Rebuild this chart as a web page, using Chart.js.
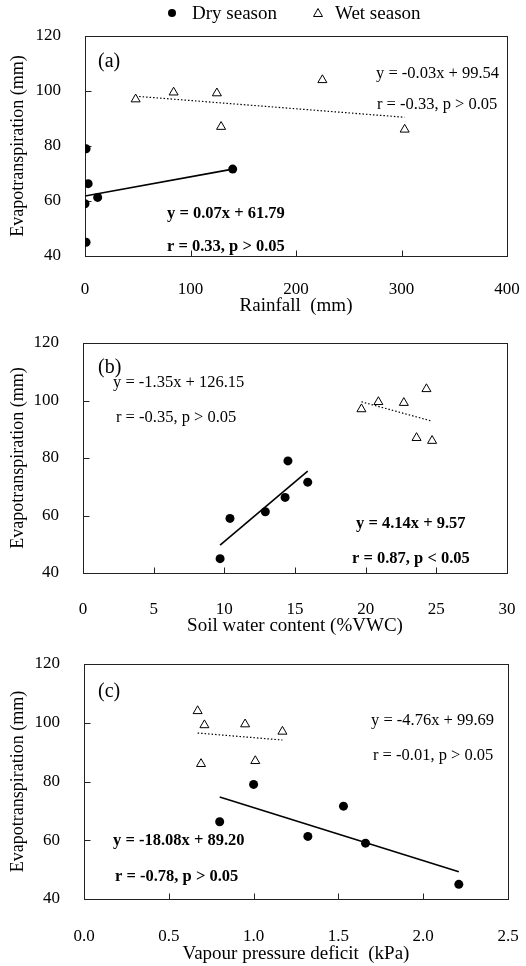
<!DOCTYPE html>
<html>
<head>
<meta charset="utf-8">
<script src="https://cdn.jsdelivr.net/npm/chart.js@4.4.0/dist/chart.umd.min.js"></script>
<style>
body { margin: 0; background: #fff; width: 526px; height: 966px; overflow: hidden; }
.panel { position: absolute; left: 0; width: 526px; }
</style>
</head>
<body>
<div class="panel" style="top:0;height:320px"><canvas id="chartA"></canvas></div>
<div class="panel" style="top:320px;height:320px"><canvas id="chartB"></canvas></div>
<div class="panel" style="top:640px;height:326px"><canvas id="chartC"></canvas></div>
<script>
// evapotranspiration (mm), same six months in each panel
const dryET = [79, 66.3, 61.3, 59, 45, 71.6];
const wetET = [104, 99.5, 99.2, 97, 87, 86];

// explanatory variables
const dryRain = [1, 3, 12, 0, 1, 140];
const wetRain = [225, 84, 125, 48, 129, 303];
const drySWC = [14.5, 14.3, 12.9, 10.4, 9.7, 15.9];
const wetSWC = [24.3, 20.9, 22.7, 19.7, 23.6, 24.7];
const dryVPD = [1.0, 0.8, 1.32, 1.66, 2.21, 1.53];
const wetVPD = [0.67, 0.95, 0.71, 1.17, 1.01, 0.69];

// regression results for panels a, b, c
const drySlope = [0.07, 4.14, -18.08];
const dryIntercept = [61.79, 9.57, 89.20];
const dryR = ['0.33', '0.87', '-0.78'];
const dryP = ['>', '<', '>'];
const wetSlope = [-0.03, -1.35, -4.76];
const wetIntercept = [99.54, 126.15, 99.69];
const wetR = ['-0.33', '-0.35', '-0.01'];
const wetP = ['>', '>', '>'];

const FONT = '"Liberation Serif", "Times New Roman", serif';

const eqText = (m, b) => 'y = ' + m.toFixed(2) + 'x + ' + b.toFixed(2);
const rText = (r, p) => 'r = ' + r + ', p ' + p + ' 0.05';

const points = (xs, ys) => xs.map((v, i) => ({x: v, y: ys[i]}));
const fitLine = (xs, m, b) => {
    const lo = Math.min(...xs), hi = Math.max(...xs);
    return [{x: lo, y: m * lo + b}, {x: hi, y: m * hi + b}];
};

// box round the plot area plus inward tick marks
const framePlugin = {
    id: 'frame',
    beforeDatasetsDraw(chart) {
        const {ctx, chartArea: a, scales: {x, y}} = chart;
        ctx.save();
        ctx.strokeStyle = '#222';
        ctx.lineWidth = 1;
        const L = Math.round(a.left) + 0.5, R = Math.round(a.right) + 0.5;
        const T = Math.round(a.top) + 0.5, B = Math.round(a.bottom) + 0.5;
        ctx.strokeRect(L, T, R - L, B - T);
        ctx.beginPath();
        x.ticks.forEach(t => {
            const px = Math.round(x.getPixelForValue(t.value)) + 0.5;
            ctx.moveTo(px, B); ctx.lineTo(px, B - 6);
        });
        y.ticks.forEach(t => {
            const py = Math.round(y.getPixelForValue(t.value)) + 0.5;
            ctx.moveTo(L, py); ctx.lineTo(L + 6, py);
        });
        ctx.stroke();
        ctx.restore();
    }
};

// text notes placed relative to the plot area
const notesPlugin = {
    id: 'notes',
    afterDraw(chart, args, opts) {
        const {ctx, chartArea: a} = chart;
        ctx.save();
        ctx.fillStyle = '#000';
        ctx.textAlign = 'left';
        ctx.textBaseline = 'middle';
        (opts.items || []).forEach(n => {
            ctx.font = (n.bold ? 'bold ' : '') + (n.size || 16.5) + 'px ' + FONT;
            ctx.fillText(n.text, a.left + n.dx, a.top + n.dy);
        });
        if (opts.legend) {
            const cy = 13;
            ctx.font = '19px ' + FONT;
            ctx.beginPath();
            ctx.arc(172, cy, 4, 0, Math.PI * 2);
            ctx.fill();
            ctx.fillText(chart.data.datasets[0].label, 192, cy + 1);
            ctx.beginPath();
            ctx.moveTo(318, cy - 4.5); ctx.lineTo(322.5, cy + 3.5); ctx.lineTo(313.5, cy + 3.5);
            ctx.closePath();
            ctx.lineWidth = 1;
            ctx.strokeStyle = '#000';
            ctx.stroke();
            ctx.fillText(chart.data.datasets[1].label, 335, cy + 1);
        }
        ctx.restore();
    }
};

const makeChart = (id, p) => new Chart(document.getElementById(id), {
    type: 'scatter',
    data: {
        datasets: [
            {label: 'Dry season', data: points(p.dryX, dryET), pointStyle: 'circle', pointRadius: 4.5,
             backgroundColor: '#000', borderColor: '#000', borderWidth: 0},
            {label: 'Wet season', data: points(p.wetX, wetET), pointStyle: 'triangle', pointRadius: 5.2,
             backgroundColor: '#fff', borderColor: '#000', borderWidth: 1},
            {label: 'dry fit', data: fitLine(p.dryX, drySlope[p.k], dryIntercept[p.k]), showLine: true,
             pointRadius: 0, borderColor: '#000', borderWidth: 1.6},
            {label: 'wet fit', data: fitLine(p.wetX, wetSlope[p.k], wetIntercept[p.k]), showLine: true,
             pointRadius: 0, borderColor: '#000', borderWidth: 1.2, borderDash: [1.5, 2]}
        ]
    },
    options: {
        responsive: true,
        maintainAspectRatio: false,
        animation: false,
        events: [],
        layout: {padding: {top: p.top, right: p.right, bottom: p.bottom, left: 0}},
        plugins: {
            legend: {display: false},
            tooltip: {enabled: false},
            notes: {items: p.notes, legend: p.legend}
        },
        scales: {
            x: {
                type: 'linear', min: p.xMin, max: p.xMax,
                grid: {display: false, drawTicks: false}, border: {display: false},
                ticks: {stepSize: p.step, padding: p.tickPad, color: '#000', font: {family: FONT, size: 17},
                        callback: p.fmt},
                title: {display: true, text: p.xTitle, color: '#000', font: {family: FONT, size: 19}, padding: 0},
                afterFit: s => { s.height = p.xh; s.paddingLeft = 0; s.paddingRight = 0; }
            },
            y: {
                min: 40, max: 120,
                grid: {display: false, drawTicks: false}, border: {display: false},
                ticks: {stepSize: 20, padding: 24, color: '#000', font: {family: FONT, size: 17}},
                title: {display: true, text: 'Evapotranspiration (mm)', color: '#000',
                        font: {family: FONT, size: 18}, padding: {top: 7, bottom: 0}},
                afterFit: s => { s.width = p.left; s.paddingTop = 0; s.paddingBottom = 0; }
            }
        }
    },
    plugins: [framePlugin, notesPlugin]
});

makeChart('chartA', {
    k: 0, dryX: dryRain, wetX: wetRain, xMin: 0, xMax: 400, step: 100, fmt: v => v,
    xTitle: 'Rainfall  (mm)', left: 85, right: 19, top: 36, bottom: 3, xh: 61, tickPad: 23, legend: true,
    notes: [
        {text: '(a)', dx: 13, dy: 26, size: 20},
        {text: eqText(wetSlope[0], wetIntercept[0]), dx: 291, dy: 38},
        {text: rText(wetR[0], wetP[0]), dx: 292, dy: 69},
        {text: eqText(drySlope[0], dryIntercept[0]), dx: 82, dy: 178, bold: true},
        {text: rText(dryR[0], dryP[0]), dx: 82, dy: 211, bold: true}
    ]
});

makeChart('chartB', {
    k: 1, dryX: drySWC, wetX: wetSWC, xMin: 0, xMax: 30, step: 5, fmt: v => v,
    xTitle: 'Soil water content (%VWC)', left: 83, right: 19, top: 23, bottom: 3, xh: 64, tickPad: 26,
    notes: [
        {text: '(b)', dx: 15, dy: 25, size: 20},
        {text: eqText(wetSlope[1], wetIntercept[1]), dx: 30, dy: 40},
        {text: rText(wetR[1], wetP[1]), dx: 33, dy: 75},
        {text: eqText(drySlope[1], dryIntercept[1]), dx: 273, dy: 181, bold: true},
        {text: rText(dryR[1], dryP[1]), dx: 269, dy: 216, bold: true}
    ]
});

makeChart('chartC', {
    k: 2, dryX: dryVPD, wetX: wetVPD, xMin: 0, xMax: 2.5, step: 0.5, fmt: v => v.toFixed(1),
    xTitle: 'Vapour pressure deficit  (kPa)', left: 84, right: 18, top: 24, bottom: 1, xh: 66, tickPad: 27,
    notes: [
        {text: '(c)', dx: 14, dy: 28, size: 20},
        {text: eqText(wetSlope[2], wetIntercept[2]), dx: 287, dy: 57},
        {text: rText(wetR[2], wetP[2]), dx: 289, dy: 92},
        {text: eqText(drySlope[2], dryIntercept[2]), dx: 29, dy: 177, bold: true},
        {text: rText(dryR[2], dryP[2]), dx: 31, dy: 213, bold: true}
    ]
});
</script>
</body>
</html>
